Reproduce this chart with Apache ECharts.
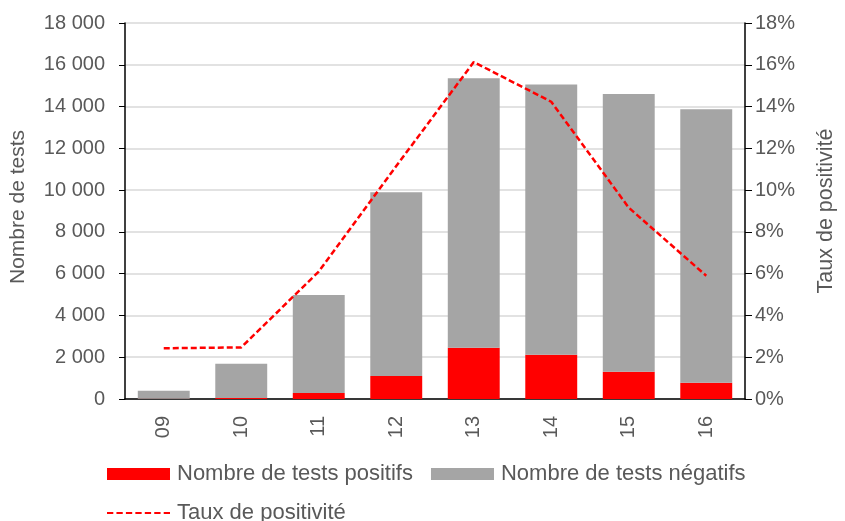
<!DOCTYPE html>
<html>
<head>
<meta charset="utf-8">
<script src="https://cdn.jsdelivr.net/npm/echarts@6/dist/echarts.min.js"></script>
<style>
html,body{margin:0;padding:0;background:#fff;}
#chart{width:845px;height:521px;}
</style>
</head>
<body>
<div id="chart"></div>
<script>
var categories = ['09', '10', '11', '12', '13', '14', '15', '16'];
var positifs = [10, 42, 290, 1100, 2455, 2120, 1310, 780];
var negatifs = [390, 1650, 4690, 8800, 12895, 12930, 13290, 13090];
var taux = [2.43, 2.47, 6.1, 11.15, 16.13, 14.23, 9.16, 5.9];

var FONT = "'Liberation Sans', Arial, sans-serif";
var TXT = '#595959';

var dashIcon = 'path://M0,0L6,0L6,2L0,2Z M9,0L15,0L15,2L9,2Z M18,0L24,0L24,2L18,2Z M27,0L33,0L33,2L27,2Z M36,0L42,0L42,2L36,2Z M45,0L51,0L51,2L45,2Z M54,0L60,0L60,2L54,2Z';

var chart = echarts.init(document.getElementById('chart'), null, {renderer: 'canvas'});
chart.setOption({
  animation: false,
  textStyle: {fontFamily: FONT, color: TXT},
  grid: {left: 125, right: 98, top: 23, bottom: 122, containLabel: false},
  legend: [
    {
      data: [
        {name: 'Nombre de tests positifs', icon: 'rect'},
        {name: 'Nombre de tests négatifs', icon: 'rect'}
      ],
      left: 107, top: 463, padding: 0,
      itemWidth: 63, itemHeight: 12, itemGap: 18,
      textStyle: {fontSize: 22, color: TXT, fontFamily: FONT, padding: [0, 0, 0, 2]}
    },
    {
      data: [{name: 'Taux de positivité', icon: dashIcon}],
      left: 107, top: 502, padding: 0,
      itemWidth: 63, itemHeight: 2.5, itemGap: 18,
      itemStyle: {color: '#ff0000'},
      textStyle: {fontSize: 22, color: TXT, fontFamily: FONT, padding: [0, 0, 0, 2]}
    }
  ],
  xAxis: {
    type: 'category',
    data: categories,
    axisLine: {lineStyle: {color: '#000', width: 1.5}},
    axisTick: {show: false},
    axisLabel: {rotate: 90, fontSize: 20, color: TXT, margin: 17, fontFamily: FONT}
  },
  yAxis: [
    {
      type: 'value', min: 0, max: 18000, interval: 2000,
      name: 'Nombre de tests', nameLocation: 'middle', nameGap: 96,
      nameTextStyle: {fontSize: 21, color: TXT, fontFamily: FONT, padding: [0, 0, 0, 8]},
      axisLine: {show: true, lineStyle: {color: '#000', width: 1.5}},
      axisTick: {show: true, length: 6, lineStyle: {color: '#000', width: 1}},
      splitLine: {show: true, lineStyle: {color: '#d9d9d9', width: 1.5}},
      axisLabel: {
        fontSize: 20, color: TXT, margin: 20, fontFamily: FONT,
        formatter: function (v) { return String(v).replace(/\B(?=(\d{3})+(?!\d))/g, ' '); }
      }
    },
    {
      type: 'value', min: 0, max: 18, interval: 2, position: 'right',
      name: 'Taux de positivité', nameLocation: 'middle', nameGap: 70,
      nameRotate: 90,
      nameTextStyle: {fontSize: 21.5, color: TXT, fontFamily: FONT},
      axisLine: {show: true, lineStyle: {color: '#000', width: 1.5}},
      axisTick: {show: true, length: 7, lineStyle: {color: '#000', width: 1}},
      splitLine: {show: false},
      axisLabel: {fontSize: 20, color: TXT, margin: 10, fontFamily: FONT, formatter: '{value}%'}
    }
  ],
  series: [
    {
      name: 'Nombre de tests positifs', type: 'bar', stack: 'tests',
      data: positifs, barCategoryGap: '33%',
      itemStyle: {color: '#ff0000'}
    },
    {
      name: 'Nombre de tests négatifs', type: 'bar', stack: 'tests',
      data: negatifs, barCategoryGap: '33%',
      itemStyle: {color: '#a5a5a5'}
    },
    {
      name: 'Taux de positivité', type: 'line', yAxisIndex: 1,
      data: taux, symbol: 'none',
      lineStyle: {color: '#ff0000', width: 2.5, type: [6, 3]},
      itemStyle: {color: '#ff0000'}
    }
  ]
});
</script>
</body>
</html>
